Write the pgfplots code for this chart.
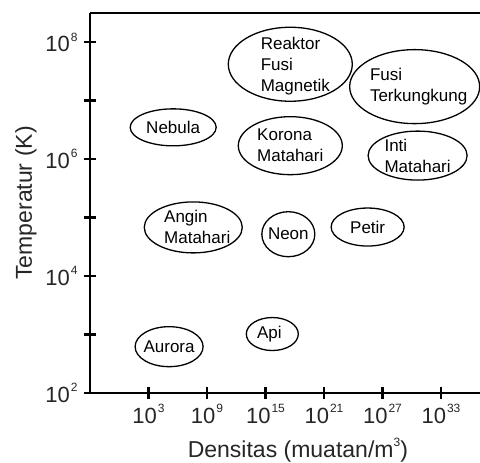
\documentclass[border=0pt]{standalone}
\usepackage{pgfplots}
\pgfplotsset{compat=1.18}
\usepackage{fontspec}
\setmainfont{Liberation Sans}
\newcommand\tl[1]{10\hspace{1pt}\raisebox{10.5pt}{\fontsize{12}{12}\selectfont #1}}
\newcommand\blob[7]{%
  \draw[line width=1.3pt] (axis cs:#1,#2) ellipse [x radius=#3pt, y radius=#4pt];
  \node[align=left, font=\fontsize{17}{21}\selectfont, inner sep=0pt, xshift=#5pt, yshift=#6pt] at (axis cs:#1,#2) {#7};}
\begin{document}
\begin{tikzpicture}
\begin{axis}[
  scale only axis, width=390pt, height=380pt,
  xmode=log, ymode=log,
  xmin=1e-3, xmax=1e37, ymin=1e2, ymax=3.1623e8,
  axis x line=box, axis y line=left,
  axis line style={line width=2.5pt, -},
  every tick/.style={line width=2.5pt, black},
  major tick length=12pt,
  tick align=center,
  xminorticks=false, yminorticks=false,
  xtick={1e3,1e9,1e15,1e21,1e27,1e33},
  xticklabels={\tl{3},\tl{9},\tl{15},\tl{21},\tl{27},\tl{33}},
  ytick={1e2,1e3,1e4,1e5,1e6,1e7,1e8},
  yticklabels={\tl{2},,\tl{4},,\tl{6},,\tl{8}},
  xtick pos=bottom, ytick pos=left,
  ticklabel style={font=\fontsize{22}{22}\selectfont, text=black!85},
  xticklabel style={yshift=-2pt},
  yticklabel style={xshift=-3pt},
  xlabel={Densitas (muatan/m\raisebox{10.5pt}{\fontsize{12}{12}\selectfont 3})},
  ylabel={Temperatur (K)},
  xlabel style={at={(axis description cs:0.533,-0.15)}, anchor=center, font=\fontsize{23}{23}\selectfont, text=black!85},
  ylabel style={at={(axis description cs:-0.164,0.5)}, anchor=center, font=\fontsize{23}{23}\selectfont, text=black!85},
  clip=false,
]
\coordinate (O) at (rel axis cs:0,0);
\blob{3.5e17}{4.2e7}{62}{37}{5}{-2}{Reaktor\\Fusi\\Magnetik}
\blob{2.0e30}{1.74e7}{65}{37}{4}{0}{Fusi\\Terkungkung}
\blob{3.4e5}{3.5e6}{43}{18.5}{0}{0}{Nebula}
\blob{3.5e17}{1.7e6}{52}{29}{0}{0}{Korona\\Matahari}
\blob{4.0e30}{1.15e6}{49.5}{24.5}{0}{0}{Inti\\Matahari}
\blob{3.9e7}{6.8e4}{49}{25.5}{4}{0}{Angin\\Matahari}
\blob{2.2e17}{5.2e4}{26.5}{22.5}{0}{0}{Neon}
\blob{3.0e25}{6.9e4}{36.5}{19}{0}{0}{Petir}
\blob{1.3e5}{6.2e2}{34}{20}{0}{0}{Aurora}
\blob{5.0e15}{1.02e3}{26}{16.5}{-3}{0}{Api}
\end{axis}
\pgfresetboundingbox
\path ([shift={(-90pt,-70pt)}]O) rectangle ([shift={(390pt,393pt)}]O);
\end{tikzpicture}
\end{document}
